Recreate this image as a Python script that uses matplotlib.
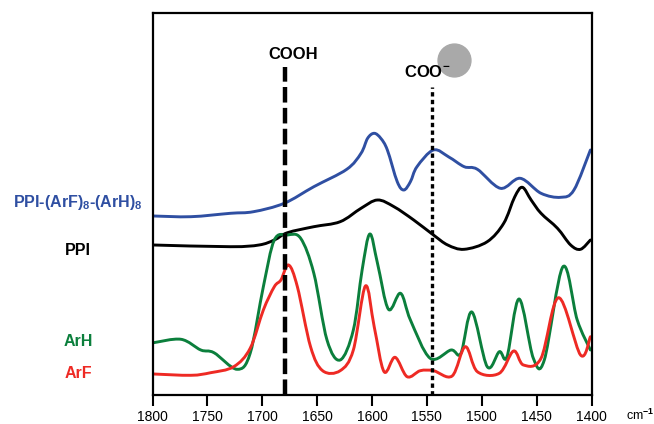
import matplotlib.pyplot as plt
from matplotlib.path import Path
from matplotlib.patches import PathPatch

plt.rcParams['font.family'] = ['Liberation Sans', 'DejaVu Sans']
plt.rcParams['mathtext.fontset'] = 'custom'
plt.rcParams['mathtext.rm'] = 'Liberation Sans:bold'
plt.rcParams['mathtext.bf'] = 'Liberation Sans:bold'

# spectra (wavenumber, offset signal)
blue_wn = [1799, 1765, 1729, 1708, 1680, 1653, 1623, 1610, 1604, 1598, 1592, 1586, 1577, 1571,
           1565, 1559, 1544, 1530, 1516, 1504, 1483, 1465, 1446, 1428, 1416, 1401]
blue_y = [179, 178.3, 181.7, 183.3, 191.7, 208.3, 225.7, 241.7, 256.7, 261.7, 256.7, 245, 213.3, 205,
          213.3, 228.3, 245, 238, 228.3, 225.7, 206.7, 216.7, 201.7, 197.7, 205, 245]

black_wn = [1799, 1729, 1703, 1689, 1677, 1653, 1629, 1610, 1595, 1580, 1562, 1544, 1531, 1516,
            1495, 1480, 1470, 1463, 1455, 1446, 1431, 1419, 1410, 1401]
black_y = [150, 148.3, 150, 155, 162.3, 168.3, 173.3, 186.7, 195, 188.3, 175, 160, 150, 145.7,
           153.3, 171.7, 198, 207.7, 195, 181.7, 166.7, 150, 145.7, 155]

green_wn = [1799, 1774, 1756, 1744, 1723, 1711, 1699, 1689, 1677, 1665, 1653, 1641, 1629, 1617,
            1609, 1602, 1595, 1585, 1574, 1565, 1547, 1528, 1519, 1509, 1495, 1484, 1477, 1466,
            1453, 1443, 1426, 1413, 1401]
green_y = [52.3, 55.7, 45, 42.3, 25.7, 41.7, 108.3, 155, 160, 156.7, 121.7, 55, 35, 65,
           125, 161, 131.7, 85.7, 101.7, 75, 36.7, 45, 41.7, 83, 28.3, 43.3, 38.3, 96,
           36.7, 35, 128.3, 75, 45]

red_wn = [1799, 1765, 1747, 1726, 1711, 1699, 1689, 1683, 1676, 1668, 1656, 1645, 1629, 1617,
          1606, 1598, 1589, 1579, 1568, 1556, 1544, 1527, 1515, 1504, 1484, 1471, 1462, 1446,
          1430, 1410, 1401]
red_y = [21, 19.7, 22.3, 28.3, 46.7, 85, 108.3, 115, 130, 108.3, 48.3, 24.3, 24.3, 45,
         109, 68.3, 23.3, 37.7, 18.3, 24.3, 24.3, 19, 48.3, 23.3, 21.7, 44, 30, 36.7,
         97.3, 40, 58.3]

names = ['PPI-(ArF)$_8$-(ArH)$_8$', 'PPI', 'ArH', 'ArF']
colors = ['#2f4fa2', '#000000', '#0b7f3c', '#ee2a24']
label_y = [203, 250, 342, 373]


def smooth_path(x, y):
    # catmull-rom through the read points, drawn as cubic bezier
    pts = list(zip(x, y))
    n = len(pts)
    verts = [pts[0]]
    codes = [Path.MOVETO]
    for i in range(n - 1):
        p0 = pts[max(i - 1, 0)]
        p1 = pts[i]
        p2 = pts[i + 1]
        p3 = pts[min(i + 2, n - 1)]
        c1 = (p1[0] + (p2[0] - p0[0]) / 6, p1[1] + (p2[1] - p0[1]) / 6)
        c2 = (p2[0] - (p3[0] - p1[0]) / 6, p2[1] - (p3[1] - p1[1]) / 6)
        verts += [c1, c2, p2]
        codes += [Path.CURVE4] * 3
    return Path(verts, codes)


fig = plt.figure(figsize=(6.54, 4.24), dpi=100)
ax = fig.add_axes([152.5 / 654, 1 - 395 / 424, 439 / 654, 382.5 / 424])

for wn, y, c in zip([blue_wn, black_wn, green_wn, red_wn], [blue_y, black_y, green_y, red_y], colors):
    ax.add_patch(PathPatch(smooth_path(wn, y), fill=False, edgecolor=c, lw=2.1,
                           joinstyle='round', capstyle='round'))

# marker lines
ax.plot([1679, 1679], [0, 328], color='black', lw=3.2, dashes=(3.5, 1.2))
ax.plot([1545, 1545], [0, 308], color='black', lw=2.4, dashes=(1.3, 1.0))
ax.scatter([1525], [335], s=560, color='#a9a9a9', zorder=1, clip_on=False)
ax.text(1671.5, 341, 'COOH', ha='center', va='center', fontsize=12, fontweight='bold')
ax.text(1549.5, 323, 'COO$^{\\mathbf{-}}$', ha='center', va='center', fontsize=12,
        fontweight='bold', zorder=5)

ax.set_xlim(1800, 1400)
ax.set_ylim(0, 382.5)
ax.set_xticks([1800, 1750, 1700, 1650, 1600, 1550, 1500, 1450, 1400])
ax.set_yticks([])
ax.tick_params(axis='x', direction='out', length=8, width=1.5, labelsize=10, pad=3)
for s in ax.spines.values():
    s.set_linewidth(1.6)

for n, c, ly in zip(names, colors, label_y):
    fig.text(78 / 654, 1 - ly / 424, n, color=c, ha='center', va='center',
             fontsize=11.5, fontweight='bold')
fig.text(640 / 654, 1 - 415 / 424, 'cm$^{-1}$', ha='center', va='center', fontsize=9)

plt.savefig("out.png", dpi=100)
